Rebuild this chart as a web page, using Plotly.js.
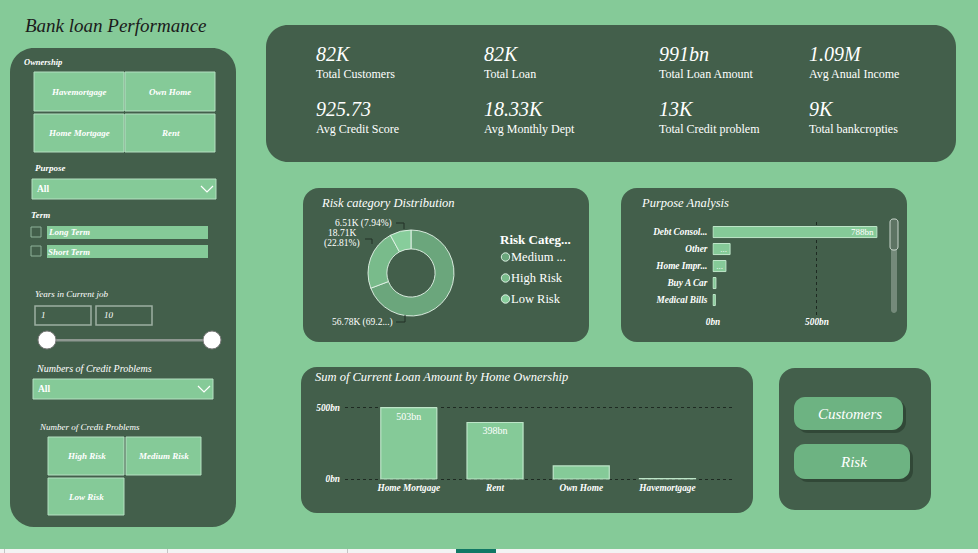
<!DOCTYPE html>
<html>
<head>
<meta charset="utf-8">
<script src="https://cdn.plot.ly/plotly-3.0.1.min.js"></script>
<style>
  html, body { margin: 0; padding: 0; background: #85CA98; overflow: hidden; }
  #chart { width: 978px; height: 553px; }
</style>
</head>
<body>
<div id="chart"></div>
<script>
// ---- Dashboard data ----
const kpiValues = ['82K', '82K', '991bn', '1.09M', '925.73', '18.33K', '13K', '9K'];
const kpiLabels = ['Total Customers', 'Total Loan', 'Total Loan Amount', 'Avg Anual Income',
                   'Avg Credit Score', 'Avg Monthly Dept', 'Total Credit problem', 'Total bankcropties'];

// Risk category distribution (number of customers)
const riskCategories = ['Medium Risk', 'High Risk', 'Low Risk'];
const riskCounts = [56784, 18709, 6513];
const riskLegendText = ['Medium ...', 'High Risk', 'Low Risk'];

// Purpose analysis (loan amount, bn)
const purposeCategories = ['Debt Consolidation', 'Other', 'Home Improvements', 'Buy A Car', 'Medical Bills'];
const purposeTickText = ['Debt Consol...', 'Other', 'Home Impr...', 'Buy A Car', 'Medical Bills'];
const purposeAmounts = [788, 82, 62, 14, 11];

// Sum of current loan amount by home ownership (bn)
const ownershipCategories = ['Home Mortgage', 'Rent', 'Own Home', 'Havemortgage'];
const ownershipAmounts = [503, 398, 92, 2];

// Slicer options
const ownershipTiles = ['Havemortgage', 'Own Home', 'Home Mortgage', 'Rent'];
const creditRiskTiles = ['High Risk', 'Medium Risk', 'Low Risk'];
const termOptions = ['Long Term', 'Short Term'];
const yearsRange = ['1', '10'];
const navButtons = ['Customers', 'Risk'];

// ---- Styling ----
const W = 978, H = 553;
const BG = '#85CA98';
const PANEL = '#435F4B';
const TILE = '#85CA98';
const TILE_EDGE = '#B4E0C1';
const SERIF = 'Liberation Serif, Times New Roman, serif';
const riskColors = ['#6BA67C', '#79BB8B', '#87CD9B'];

const px = x => x / W;
const py = y => 1 - y / H;

function roundedPath(x0, y0, x1, y1, r) {
  const k = 0.5523 * r;
  const P = (x, y) => px(x) + ',' + py(y);
  return 'M' + P(x0 + r, y0) +
    ' L' + P(x1 - r, y0) +
    ' C' + P(x1 - r + k, y0) + ' ' + P(x1, y0 + r - k) + ' ' + P(x1, y0 + r) +
    ' L' + P(x1, y1 - r) +
    ' C' + P(x1, y1 - r + k) + ' ' + P(x1 - r + k, y1) + ' ' + P(x1 - r, y1) +
    ' L' + P(x0 + r, y1) +
    ' C' + P(x0 + r - k, y1) + ' ' + P(x0, y1 - r + k) + ' ' + P(x0, y1 - r) +
    ' L' + P(x0, y0 + r) +
    ' C' + P(x0, y0 + r - k) + ' ' + P(x0 + r - k, y0) + ' ' + P(x0 + r, y0) + ' Z';
}
function box(x0, y0, x1, y1, r, fill, line, lw) {
  return { type: 'path', xref: 'paper', yref: 'paper', layer: 'below',
    path: roundedPath(x0, y0, x1, y1, r), fillcolor: fill,
    line: { color: line || fill, width: lw || 0 } };
}
function rect(x0, y0, x1, y1, fill, line, lw) {
  return { type: 'rect', xref: 'paper', yref: 'paper', layer: 'below',
    x0: px(x0), x1: px(x1), y0: py(y1), y1: py(y0),
    fillcolor: fill, line: { color: line || 'rgba(0,0,0,0)', width: lw || 0 } };
}
function polyline(points, color, width) {
  const d = points.map((p, i) => (i ? 'L' : 'M') + px(p[0]) + ',' + py(p[1])).join(' ');
  return { type: 'path', xref: 'paper', yref: 'paper', layer: 'above', path: d,
    line: { color: color, width: width } };
}
function circle(cx, cy, r, fill, line, lw, layer) {
  return { type: 'circle', xref: 'paper', yref: 'paper', layer: layer || 'below',
    x0: px(cx - r), x1: px(cx + r), y0: py(cy + r), y1: py(cy - r),
    fillcolor: fill, line: { color: line, width: lw } };
}
function label(x, y, text, size, opts) {
  const o = opts || {};
  return {
    xref: 'paper', yref: 'paper', showarrow: false,
    x: px(o.anchor === 'center' ? x : (o.anchor === 'right' ? x + 2 : x - 2)), y: py(y),
    xanchor: o.anchor || 'left', yanchor: 'middle', text: text,
    font: { family: SERIF, size: size, color: o.color || '#FFFFFF',
            style: o.italic ? 'italic' : 'normal', weight: o.bold ? 'bold' : 'normal' }
  };
}

const shapes = [];
const annotations = [];

// ---- Panels ----
shapes.push(box(10, 48, 236, 527, 24, PANEL));
shapes.push(box(266, 25, 956, 162, 22, PANEL));
shapes.push(box(303, 188, 589, 342, 16, PANEL));
shapes.push(box(621, 188, 907, 342, 16, PANEL));
shapes.push(box(301, 367, 753, 513, 16, PANEL));
shapes.push(box(779, 368, 931, 510, 16, PANEL));

// Report tab strip at the bottom
shapes.push(rect(0, 549, 978, 553, '#F3F3F3'));
[4, 167, 347].forEach(x => shapes.push(rect(x, 549, x + 1, 553, '#C4C4C4')));
shapes.push(rect(456, 549, 496, 553, '#117865'));

annotations.push(label(25, 26, 'Bank loan Performance', 19, { italic: true, color: '#1B1B1B' }));

// ---- KPI cards ----
const kpiX = [316, 484, 659, 809];
kpiValues.forEach((v, i) => {
  const col = i % 4, row = Math.floor(i / 4);
  annotations.push(label(kpiX[col], 54 + row * 55, v, 20, { italic: true }));
  annotations.push(label(kpiX[col], 74 + row * 55, kpiLabels[i], 12));
});

// ---- Slicers (left panel) ----
annotations.push(label(24, 62, 'Ownership', 8.5, { italic: true, bold: true }));
const ownTileBoxes = [[34, 72, 124, 111], [125, 72, 215, 111], [34, 114, 124, 152], [125, 114, 215, 152]];
ownershipTiles.forEach((t, i) => {
  const b = ownTileBoxes[i];
  shapes.push(rect(b[0], b[1], b[2], b[3], TILE, TILE_EDGE, 1));
  annotations.push(label((b[0] + b[2]) / 2, (b[1] + b[3]) / 2, t, 9, { italic: true, bold: true, anchor: 'center' }));
});

annotations.push(label(35, 168, 'Purpose', 9, { italic: true, bold: true }));
shapes.push(rect(32, 179, 216, 199, TILE, TILE_EDGE, 1));
shapes.push(polyline([[201, 186], [207, 192], [213, 186]], '#FFFFFF', 1.2));
annotations.push(label(37, 189, 'All', 9.5, { bold: true }));

annotations.push(label(31, 215, 'Term', 9, { italic: true, bold: true }));
termOptions.forEach((t, i) => {
  const y = 226 + i * 19;
  shapes.push(rect(31, y + 1, 41, y + 11, 'rgba(0,0,0,0)', '#8FB39A', 1));
  shapes.push(rect(47, y, 208, y + 13, TILE));
  annotations.push(label(48, y + 6.5, t, 9, { italic: true, bold: true }));
});

annotations.push(label(35, 294, 'Years in Current job', 9, { italic: true }));
shapes.push(rect(35, 306, 91, 325, 'rgba(0,0,0,0)', '#9DB0A2', 1.5));
shapes.push(rect(96, 306, 152, 325, 'rgba(0,0,0,0)', '#9DB0A2', 1.5));
annotations.push(label(41, 315.5, yearsRange[0], 9, { italic: true }));
annotations.push(label(104, 315.5, yearsRange[1], 9, { italic: true }));
shapes.push(rect(47, 339, 212, 341.5, '#8E9891'));
shapes.push(circle(47, 340, 9, '#FFFFFF', '#7A7A7A', 1));
shapes.push(circle(212, 340, 9, '#FFFFFF', '#7A7A7A', 1));

annotations.push(label(36, 368, 'Numbers of Credit Problems', 10, { italic: true }));
shapes.push(rect(33, 379, 213, 399, TILE, TILE_EDGE, 1));
shapes.push(polyline([[198, 386], [204, 392], [210, 386]], '#FFFFFF', 1.2));
annotations.push(label(38, 389, 'All', 9.5, { bold: true }));

annotations.push(label(39, 427, 'Number of Credit Problems', 9, { italic: true }));
const riskTileBoxes = [[48, 437, 124, 475], [126, 437, 201, 475], [48, 478, 124, 515]];
creditRiskTiles.forEach((t, i) => {
  const b = riskTileBoxes[i];
  shapes.push(rect(b[0], b[1], b[2], b[3], TILE, TILE_EDGE, 1));
  annotations.push(label((b[0] + b[2]) / 2, (b[1] + b[3]) / 2, t, 9, { italic: true, bold: true, anchor: 'center' }));
});

// ---- Risk category donut ----
annotations.push(label(321, 203, 'Risk category Distribution', 12.5, { italic: true }));
const riskTotal = riskCounts.reduce((a, b) => a + b, 0);
const kFmt = v => (v / 1000).toFixed(2) + 'K';
const pctFmt = v => (100 * v / riskTotal).toFixed(2) + '%';
annotations.push(label(362, 322, kFmt(riskCounts[0]) + ' (' + pctFmt(riskCounts[0]).slice(0, 4) + '...)', 9.5, { anchor: 'center' }));
annotations.push(label(342, 233, kFmt(riskCounts[1]), 9.5, { anchor: 'center' }));
annotations.push(label(342, 243, '(' + pctFmt(riskCounts[1]) + ')', 9.5, { anchor: 'center' }));
annotations.push(label(363, 223, kFmt(riskCounts[2]) + ' (' + pctFmt(riskCounts[2]) + ')', 9.5, { anchor: 'center' }));
shapes.push(polyline([[396, 223], [404, 223], [404, 229]], '#223026', 1));
shapes.push(polyline([[365, 239], [372, 239], [372, 244]], '#223026', 1));
shapes.push(polyline([[396, 322], [405, 322], [405, 315]], '#223026', 1));

annotations.push(label(500, 239, 'Risk Categ...', 13, { bold: true }));
riskLegendText.forEach((t, i) => {
  const y = 257 + i * 21;
  shapes.push(circle(505.5, y, 4.2, riskColors[i], '#DCEFE2', 1, 'above'));
  annotations.push(label(511, y, t, 12.5));
});

// ---- Purpose analysis ----
annotations.push(label(641, 203, 'Purpose Analysis', 12.5, { italic: true }));
shapes.push(box(891, 220, 897, 313, 3, '#748A7A'));
shapes.push(box(890, 219, 898, 250, 3, '#5D7363', '#C9D5CC', 1));
const purposeLabels = purposeAmounts.map(v => v > 300 ? Math.round(v) + 'bn' : (v > 50 ? '...' : ''));

// ---- Home ownership bars ----
annotations.push(label(315, 377, 'Sum of Current Loan Amount by Home Ownership', 12.5, { italic: true }));
const ownershipLabels = ownershipAmounts.map(v => v > 200 ? Math.round(v) + 'bn' : '');

// ---- Navigation buttons ----
const btnBoxes = [[794, 397, 903, 430], [794, 444, 910, 479]];
navButtons.forEach((t, i) => {
  const b = btnBoxes[i];
  shapes.push(box(b[0] + 3, b[1] + 3, b[2] + 3, b[3] + 3, 11, 'rgba(35,52,40,0.55)'));
  shapes.push(box(b[0], b[1], b[2], b[3], 11, '#6DB382'));
  annotations.push(label((b[0] + b[2]) / 2 + 1, (b[1] + b[3]) / 2, t, 15, { italic: true, anchor: 'center' }));
});

const tickFont = { family: SERIF, size: 9.3, color: '#FFFFFF', style: 'italic', weight: 'bold' };

const traces = [
  {
    type: 'pie', values: riskCounts, labels: riskCategories, hole: 0.56,
    sort: false, direction: 'clockwise', rotation: 0, textinfo: 'none',
    marker: { colors: riskColors, line: { color: 'rgba(228,244,233,0.9)', width: 1 } },
    domain: { x: [px(368), px(454)], y: [py(316), py(230)] },
    showlegend: false
  },
  {
    type: 'bar', orientation: 'h', x: purposeAmounts, y: purposeCategories,
    xaxis: 'x', yaxis: 'y', width: 0.65,
    marker: { color: TILE, line: { color: '#BDE5C8', width: 1 } },
    text: purposeLabels, textposition: 'inside', insidetextanchor: 'end', textangle: 0,
    constraintext: 'none', cliponaxis: false,
    textfont: { family: SERIF, size: 9, color: '#FFFFFF' }
  },
  {
    type: 'bar', x: ownershipCategories, y: ownershipAmounts,
    xaxis: 'x2', yaxis: 'y2', width: 0.65,
    marker: { color: TILE, line: { color: '#BDE5C8', width: 1.2 } },
    text: ownershipLabels, textposition: 'inside', insidetextanchor: 'end', textangle: 0,
    constraintext: 'none',
    textfont: { family: SERIF, size: 10, color: '#FFFFFF' }
  }
];

const layout = {
  width: W, height: H,
  margin: { l: 0, r: 0, t: 0, b: 0, pad: 0 },
  paper_bgcolor: BG, plot_bgcolor: 'rgba(0,0,0,0)',
  showlegend: false,
  shapes: shapes,
  annotations: annotations,
  xaxis: {
    domain: [px(712.4), px(880)], range: [-3, 803],
    tickvals: [0, 500], ticktext: ['0bn', '500bn'],
    showgrid: true, gridcolor: '#1E2A22', griddash: 'dot', gridwidth: 1,
    zeroline: false, showline: false, ticks: '', tickfont: tickFont, fixedrange: true
  },
  yaxis: {
    domain: [py(315), py(222)], type: 'category',
    range: [4.88, -0.59], tickvals: purposeCategories, ticktext: purposeTickText,
    showgrid: false, zeroline: false, showline: false, ticks: '', tickfont: tickFont,
    ticklabelstandoff: 4, fixedrange: true
  },
  xaxis2: {
    domain: [px(345), px(733)], type: 'category', range: [-0.74, 3.76],
    anchor: 'y2', showgrid: false, zeroline: false, showline: false, ticks: '',
    tickfont: tickFont, fixedrange: true
  },
  yaxis2: {
    domain: [py(481), py(400)], range: [-14.1, 556.3], anchor: 'x2',
    tickvals: [0, 500], ticktext: ['0bn', '500bn'],
    showgrid: true, gridcolor: '#1E2A22', griddash: 'dot', gridwidth: 1,
    zeroline: false, showline: false, ticks: '', tickfont: tickFont,
    ticklabelstandoff: 4, fixedrange: true
  }
};

Plotly.newPlot('chart', traces, layout, { staticPlot: true, displayModeBar: false });
</script>
</body>
</html>
